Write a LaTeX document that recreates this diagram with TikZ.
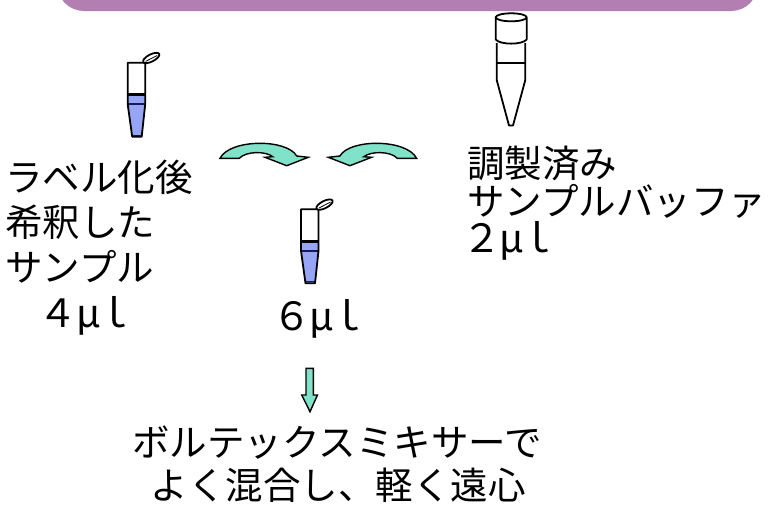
\documentclass[tikz,border=0pt]{standalone}
\usepackage{fontspec}
\newfontfamily\jp{Noto Sans CJK JP}
\newfontfamily\jpp[RawFeature=+palt]{Noto Sans CJK JP}
\definecolor{barpurple}{RGB}{179,127,179}
\definecolor{mint}{RGB}{128,226,200}
\definecolor{tubeblue}{RGB}{150,166,245}
\definecolor{navy}{RGB}{25,25,90}
\newcommand{\gapvol}{\kern3pt}
\begin{document}
\begin{tikzpicture}[x=1pt,y=-1pt,
  outline/.style={draw=black,line width=1.8pt,line join=round},
  lbl/.style={inner sep=0pt,anchor=base west,font=\jp\fontsize{37.5}{40}\selectfont},
  vol/.style={inner sep=0pt,anchor=base west,font=\jpp\fontsize{39}{40}\selectfont},
  blockarrow/.style={fill=mint,draw=black,line width=1.4pt,line join=miter},
  smalltube/.pic={
    % liquid in the tip
    \fill[tubeblue] (0,32) -- (17.5,32) -- (17.5,41.5) -- (14,74) -- (4.5,74) -- (0,41.5) -- cycle;
    \draw[navy,line width=1.6pt] (0,41.5) -- (17.5,41.5);
    \draw[navy,line width=1.2pt] (5,72.5) -- (13.5,72.5);
    % tube wall
    \draw[outline,fill=none] (0,41.5) -- (0,0) -- (17.5,0) -- (17.5,41.5) -- (14,74) -- (4.5,74) -- cycle;
    \draw[line width=3pt] (0,32) -- (17.5,32);
    % hinged lid
    \draw[outline,fill=white,rotate around={27:(23.5,-4.7)}] (23.5,-4.7) ellipse (9 and 3.6);
    \draw[line width=0.8pt,rotate around={27:(23.5,-4.7)}] (17,-4.2) -- (30,-4.2);
  }]
\useasboundingbox (0,0) rectangle (768,506);

% header band
\fill[barpurple,rounded corners=27pt] (57,-40) rectangle (758,11);

% small tubes
\pic at (127.7,62.7) {smalltube};
\pic at (301,209.3) {smalltube};

% large tube with cap
\draw[outline,fill=white] (511.2,17.3) ellipse (15.5 and 4);
\draw[outline] (495.7,17.3) -- (495.7,39.5) .. controls (500,45) and (522.4,45) .. (526.7,39.5) -- (526.7,17.3);
\draw[outline] (496.7,43) -- (496.7,80) -- (509,125.5) -- (513,125.5) -- (525.3,80) -- (525.3,43);
\draw[outline] (496.7,62.7) -- (525.3,62.7);

% curved block arrows
\path[blockarrow] (220,158.3) .. controls (230,138.7) and (287,138.7) .. (296.7,156)
  -- (308.3,157.3) -- (286.7,165.7) -- (265,157.3) -- (272.7,156.7)
  .. controls (266,151) and (246,151) .. (239.3,158.3) -- cycle;
\begin{scope}[xshift=636.6,xscale=-1]
\path[blockarrow] (220,158.3) .. controls (230,138.7) and (287,138.7) .. (296.7,156)
  -- (308.3,157.3) -- (286.7,165.7) -- (265,157.3) -- (272.7,156.7)
  .. controls (266,151) and (246,151) .. (239.3,158.3) -- cycle;
\end{scope}

% down block arrow
\path[blockarrow] (306,368.3) -- (313.3,368.3) -- (313.3,395) -- (317.5,395)
  -- (310,411.7) -- (301.7,395) -- (306,395) -- cycle;

% labels
\node[lbl] (l1) at (5,191) {ラベル化後};
\node[lbl] (l2) at (5,236) {希釈した};
\node[lbl] (l3) at (5,281) {サンプル};
\node[vol] (l4) at (44,327) {４\gapvol μ\gapvol ｌ};

\node[lbl] (r1) at (467,177) {調製済み};
\node[lbl] (r2) at (467,215.5) {サンプルバッファ};
\node[vol] (r3) at (467,252) {２\gapvol μ\gapvol ｌ};

\node[vol] (m1) at (277,330) {６\gapvol μ\gapvol ｌ};

\node[lbl,anchor=base] (b1) at (337,456) {ボルテックスミキサーで};
\node[lbl,anchor=base] (b2) at (338,499) {よく混合し、軽く遠心};
\end{tikzpicture}
\end{document}
